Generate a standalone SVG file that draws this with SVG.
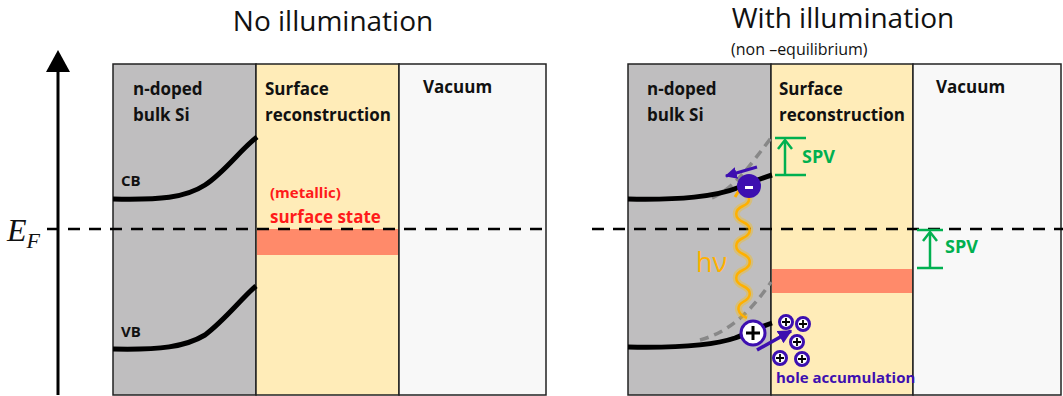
<svg xmlns="http://www.w3.org/2000/svg" width="1063" height="396" viewBox="0 0 1063 396">
<defs>
<style>
.bulk{fill:#bfbebf;stroke:#222;stroke-width:1.5}
.surf{fill:#ffecb8;stroke:#222;stroke-width:1.5}
.vac{fill:#f8f8f8;stroke:#222;stroke-width:1.5}
.lbl{font-family:"Open Sans","Liberation Sans",sans-serif;font-weight:bold;font-size:17px;fill:#111}
.sm{font-size:15px}
.red{fill:#ff1a1a}
.pt{fill:#3d0fb0}
.title{font-family:"Open Sans","Liberation Sans",sans-serif;font-size:28px;fill:#111}
.band{fill:none;stroke:#000;stroke-width:5;stroke-linecap:butt}
.old{fill:none;stroke:#888;stroke-width:3.5;stroke-dasharray:9,6}
.ef{stroke:#000;stroke-width:2.5;stroke-dasharray:12,9}
.ss{fill:#ff8a6a}
.spv{stroke:#00b050;stroke-width:2.5;fill:none}
.green{font-family:"Open Sans","Liberation Sans",sans-serif;font-weight:bold;font-size:18px;fill:#00b050}
.purp{fill:#3d0fb0}
</style>
<marker id="ah" viewBox="0 0 10 10" refX="9" refY="5" markerWidth="4" markerHeight="4" orient="auto"><path d="M0,0 L10,5 L0,10 z" fill="#3d0fb0"/></marker>
<g id="hole"><circle r="6.5" fill="#fff" stroke="#3d0fb0" stroke-width="3"/><path d="M-4,0 H4 M0,-4 V4" stroke="#000" stroke-width="1.8"/></g>
<path id="wave" d="M747,318 C737,314 736,306 743,302 C752,297 752,290 743,286 C734,282 734,274 743,270 C752,266 752,258 743,254 C734,250 734,242 743,238 C752,234 752,226 743,222 C734,218 734,210 743,206 C752,202 750,195 743,192 L743,186" fill="none"/>
</defs>

<text class="title" x="333" y="31" text-anchor="middle">No illumination</text>
<text class="title" x="843" y="28" text-anchor="middle">With illumination</text>
<text x="731" y="55" font-family="'Open Sans','Liberation Sans',sans-serif" font-size="16" fill="#111">(non –equilibrium)</text>

<!-- energy axis -->
<g id="axis">
<line x1="58" y1="395" x2="58" y2="70" stroke="#000" stroke-width="3"/>
<path d="M46,72 L58,50 L70,72 z" fill="#000"/>
</g>
<text x="7" y="241" font-family="'Liberation Serif',serif" font-style="italic" font-size="32" fill="#111">E<tspan font-size="22" dy="7">F</tspan></text>

<!-- left panel -->
<g id="left-bulk">
<rect class="bulk" x="113" y="64" width="143" height="331"/>
<text class="lbl" x="133" y="95">n-doped</text>
<text class="lbl" x="133" y="121">bulk Si</text>
<text class="lbl sm" x="121" y="186">CB</text>
<text class="lbl sm" x="121" y="337">VB</text>
</g>
<g id="left-surface">
<rect class="surf" x="256" y="64" width="143" height="331"/>
<rect class="ss" x="257" y="229" width="141" height="26"/>
<text class="lbl" x="265" y="95">Surface</text>
<text class="lbl" x="265" y="121">reconstruction</text>
<text class="lbl sm red" x="270" y="198">(metallic)</text>
<text class="lbl red" x="270" y="223">surface state</text>
</g>
<g id="left-vacuum">
<rect class="vac" x="399" y="64" width="147" height="331"/>
<text class="lbl" x="423" y="93">Vacuum</text>
</g>
<g id="left-bands">
<path class="band" d="M113,199 C160,200 185,198 205,185 C225,172 240,150 257,137"/>
<path class="band" d="M113,349 C160,350 185,347 205,335 C225,320 240,300 256,286"/>
</g>

<!-- right panel -->
<g id="right-bulk">
<rect class="bulk" x="628" y="64" width="143" height="331"/>
<text class="lbl" x="647" y="95">n-doped</text>
<text class="lbl" x="647" y="121">bulk Si</text>
</g>
<g id="right-surface">
<rect class="surf" x="771" y="64" width="142" height="331"/>
<rect class="ss" x="772" y="269" width="140" height="24"/>
<text class="lbl" x="779" y="95">Surface</text>
<text class="lbl" x="779" y="121">reconstruction</text>
</g>
<g id="right-vacuum">
<rect class="vac" x="913" y="64" width="148" height="331"/>
<text class="lbl" x="936" y="93">Vacuum</text>
</g>

<!-- E_F lines -->
<g id="fermi">
<line class="ef" x1="47" y1="229" x2="546" y2="229"/>
<line class="ef" x1="592" y1="229" x2="1063" y2="229"/>
</g>

<g id="right-bands">
<path class="old" d="M712,198 C735,188 750,165 771,138"/>
<path class="old" d="M700,340 C730,332 752,310 771,282"/>
<path class="band" d="M628,199 C680,200 715,197 740,187 C752,182 762,178 772,175"/>
<path class="band" d="M628,347 C680,348 715,345 735,338 C748,333 760,327 772,323"/>
</g>

<g id="photon">
<use href="#wave" stroke="#ffc000" stroke-width="7" opacity="0.35"/>
<use href="#wave" stroke="#ffb000" stroke-width="2.5"/>
<path d="M735,197 L743,184 L751,197" fill="none" stroke="#ffb000" stroke-width="3"/>
<text x="696" y="272" font-family="'Open Sans','Liberation Sans',sans-serif" font-size="27" fill="#ffb000">hν</text>
</g>

<g id="electron">
<circle cx="749" cy="186" r="12" class="purp"/>
<rect x="745" y="186" width="8" height="3" fill="#fff"/>
<line x1="757" y1="167" x2="726" y2="176" stroke="#3d0fb0" stroke-width="3" marker-end="url(#ah)"/>
</g>

<g id="hole-main">
<circle cx="753" cy="333" r="12" fill="#fff" stroke="#3d0fb0" stroke-width="3"/>
<path d="M746,333 H760 M753,326 V340" stroke="#000" stroke-width="3"/>
<line x1="757" y1="350" x2="791" y2="331" stroke="#3d0fb0" stroke-width="3.5" marker-end="url(#ah)"/>
</g>

<g id="holes">
<use href="#hole" x="786" y="322"/>
<use href="#hole" x="803" y="324"/>
<use href="#hole" x="797" y="342"/>
<use href="#hole" x="780" y="358"/>
<use href="#hole" x="802" y="359"/>
<text class="lbl sm pt" x="776" y="383">hole accumulation</text>
</g>

<g id="spv-top">
<line class="spv" x1="775" y1="138" x2="806" y2="138"/>
<line class="spv" x1="775" y1="175" x2="806" y2="175"/>
<line class="spv" x1="785" y1="175" x2="785" y2="141"/>
<path class="spv" d="M778,149 L785,140 L792,149"/>
<text class="green" x="802" y="163">SPV</text>
</g>
<g id="spv-bottom">
<line class="spv" x1="917" y1="230" x2="943" y2="230"/>
<line class="spv" x1="917" y1="268" x2="943" y2="268"/>
<line class="spv" x1="930" y1="268" x2="930" y2="233"/>
<path class="spv" d="M923,241 L930,232 L937,241"/>
<text class="green" x="945" y="253">SPV</text>
</g>
</svg>
